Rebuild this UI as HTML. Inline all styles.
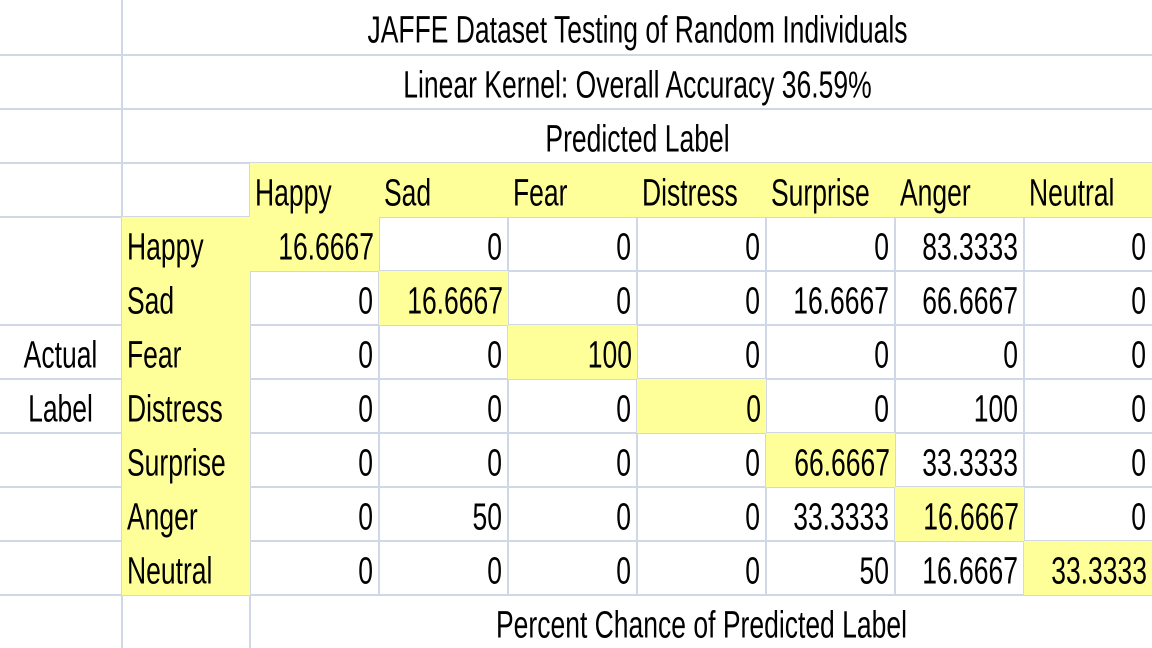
<!DOCTYPE html>
<html><head><meta charset="utf-8">
<style>
html,body{margin:0;padding:0;background:#fff;}
#sheet{position:relative;width:1152px;height:648px;overflow:hidden;background:#fff;font-family:"Liberation Sans Narrow","Liberation Sans",sans-serif;}
.c{position:absolute;box-sizing:border-box;display:flex;align-items:center;color:#000;font-size:26.5px;white-space:nowrap;overflow:hidden;}
.c span{display:inline-block;transform:translateY(4px) scaleY(1.42);transform-origin:center 60%;}
.hl{position:absolute;height:2px;background:#d0d7e5;}
.vl{position:absolute;width:2px;background:#d0d7e5;}
</style></head><body>
<div id="sheet"></div>
<script>
const labels=["Happy","Sad","Fear","Distress","Surprise","Anger","Neutral"];
const values=[
["16.6667","0","0","0","0","83.3333","0"],
["0","16.6667","0","0","16.6667","66.6667","0"],
["0","0","100","0","0","0","0"],
["0","0","0","0","0","100","0"],
["0","0","0","0","66.6667","33.3333","0"],
["0","50","0","0","33.3333","16.6667","0"],
["0","0","0","0","50","16.6667","33.3333"]
];
const titles=["JAFFE Dataset Testing of Random Individuals","Linear Kernel: Overall Accuracy 36.59%","Predicted Label"];
const footer="Percent Chance of Predicted Label";
const colX=[0,122,250,379,508,637,766,895,1024,1152];
const rowY=[0,55,109,163,217,271,325,379,433,487,541,595,648];
const Y="#ffff99";
const sheet=document.getElementById('sheet');
function line(cls,x,y,len){const d=document.createElement('div');d.className=cls;
 if(cls==='hl'){d.style.left=x+'px';d.style.top=(y-1)+'px';d.style.width=len+'px';}
 else{d.style.left=(x-1)+'px';d.style.top=y+'px';d.style.height=len+'px';}
 
 
 sheet.appendChild(d);}
for(let i=1;i<rowY.length-1;i++) line('hl',0,rowY[i],1152);
for(let j=1;j<colX.length-1;j++) line('vl',colX[j],0,648);
function cell(x1,x2,y1,y2,text,opts,name){
 const d=document.createElement('div');d.className='c';
 d.style.left=x1+'px';d.style.top=y1+'px';d.style.width=(x2-x1)+'px';d.style.height=(y2-y1)+'px';
 d.style.background=opts.bg||'#fff';
 d.style.justifyContent=opts.align||'flex-start';
 d.style.padding='0 5px';
 const s=document.createElement('span');s.textContent=text;d.appendChild(s);
 
 
 sheet.appendChild(d);return d;}
titles.forEach((t,i)=>{cell(colX[1]+1,1152,i===0?0:rowY[i]+1,rowY[i+1]-1,t,{align:'center'},'title-row-'+(i+1));});
cell(colX[1]+1,colX[2]-1,rowY[3]+1,rowY[4]-1,'',{},'corner-cell');
cell(colX[2],1152,rowY[3],rowY[4],'',{bg:Y},'predicted-header-bg');
labels.forEach((l,j)=>{cell(colX[2+j],colX[3+j],rowY[3],rowY[4],l,{bg:Y},'predicted-label-'+l.toLowerCase());});
cell(colX[1],colX[2],rowY[4],rowY[11],'',{bg:Y},'actual-header-bg');
labels.forEach((l,i)=>{cell(colX[1],colX[2],rowY[4+i],rowY[5+i],l,{bg:Y},'actual-label-'+l.toLowerCase());});
cell(0,colX[1]-1,rowY[4]+1,rowY[6]-1,'',{},'blank-left');
cell(0,colX[1]-1,rowY[6]+1,rowY[7]-1,'Actual',{align:'center'},'actual-axis-title-1');
cell(0,colX[1]-1,rowY[7]+1,rowY[8]-1,'Label',{align:'center'},'actual-axis-title-2');
values.forEach((row,i)=>row.forEach((v,j)=>{
 const diag=i===j;
 const x1=colX[2+j]+(diag?0:1),x2=colX[3+j]-(diag?0:1),y1=rowY[4+i]+(diag?0:1),y2=rowY[5+i]-(diag?0:1);
 cell(x1,x2,y1,y2,v,{bg:diag?Y:'#fff',align:'flex-end'},'value-'+labels[i].toLowerCase()+'-'+labels[j].toLowerCase());
}));
cell(colX[2]+1,1152,rowY[11]+1,648,footer,{align:'center'},'footer-label');
</script>
</body></html>
